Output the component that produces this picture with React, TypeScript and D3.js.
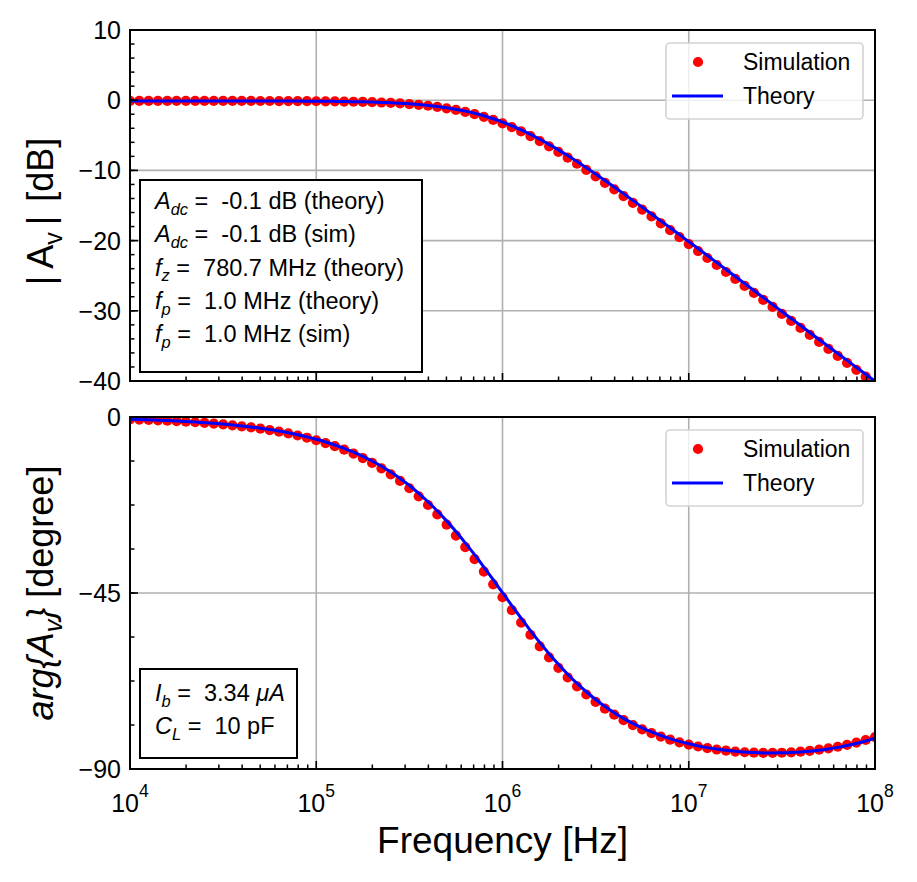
import { useEffect, useRef } from 'react';
import * as d3 from 'd3';

// log10 of frequency [Hz], 20 points per decade
const logFreq = [
  4.00, 4.05, 4.10, 4.15, 4.20, 4.25, 4.30, 4.35, 4.40, 4.45,
  4.50, 4.55, 4.60, 4.65, 4.70, 4.75, 4.80, 4.85, 4.90, 4.95,
  5.00, 5.05, 5.10, 5.15, 5.20, 5.25, 5.30, 5.35, 5.40, 5.45,
  5.50, 5.55, 5.60, 5.65, 5.70, 5.75, 5.80, 5.85, 5.90, 5.95,
  6.00, 6.05, 6.10, 6.15, 6.20, 6.25, 6.30, 6.35, 6.40, 6.45,
  6.50, 6.55, 6.60, 6.65, 6.70, 6.75, 6.80, 6.85, 6.90, 6.95,
  7.00, 7.05, 7.10, 7.15, 7.20, 7.25, 7.30, 7.35, 7.40, 7.45,
  7.50, 7.55, 7.60, 7.65, 7.70, 7.75, 7.80, 7.85, 7.90, 7.95,
  8.00,
];

const theoryMagDb = [
  -0.100, -0.101, -0.101, -0.101, -0.101, -0.101, -0.102, -0.102, -0.103, -0.103,
  -0.104, -0.105, -0.107, -0.109, -0.111, -0.114, -0.117, -0.122, -0.127, -0.134,
  -0.143, -0.154, -0.168, -0.186, -0.208, -0.235, -0.270, -0.312, -0.366, -0.432,
  -0.514, -0.615, -0.739, -0.890, -1.073, -1.293, -1.555, -1.864, -2.224, -2.639,
  -3.110, -3.639, -4.224, -4.864, -5.555, -6.293, -7.073, -7.890, -8.739, -9.615,
  -10.514, -11.432, -12.366, -13.312, -14.270, -15.235, -16.208, -17.186, -18.168, -19.154,
  -20.142, -21.133, -22.126, -23.121, -24.117, -25.113, -26.110, -27.106, -28.103, -29.099,
  -30.097, -31.094, -32.092, -33.088, -34.084, -35.079, -36.073, -37.066, -38.056, -39.045,
  -40.029,
];

const simMagDb = [
  -0.100, -0.101, -0.101, -0.101, -0.101, -0.102, -0.102, -0.102, -0.103, -0.104,
  -0.105, -0.106, -0.108, -0.110, -0.112, -0.115, -0.119, -0.124, -0.129, -0.137,
  -0.147, -0.159, -0.174, -0.194, -0.218, -0.247, -0.285, -0.331, -0.389, -0.461,
  -0.550, -0.659, -0.793, -0.955, -1.151, -1.386, -1.665, -1.992, -2.371, -2.806,
  -3.298, -3.847, -4.451, -5.109, -5.817, -6.570, -7.363, -8.191, -9.050, -9.934,
  -10.840, -11.764, -12.702, -13.652, -14.613, -15.580, -16.555, -17.535, -18.518, -19.505,
  -20.494, -21.485, -22.479, -23.474, -24.471, -25.466, -26.462, -27.458, -28.456, -29.452,
  -30.450, -31.447, -32.443, -33.439, -34.433, -35.427, -36.421, -37.412, -38.402, -39.389,
  -40.373,
];

const theoryPhaseDeg = [
  -0.57, -0.64, -0.72, -0.81, -0.91, -1.02, -1.14, -1.28, -1.44, -1.61,
  -1.81, -2.03, -2.28, -2.55, -2.86, -3.21, -3.60, -4.04, -4.53, -5.08,
  -5.70, -6.39, -7.16, -8.02, -8.98, -10.06, -11.26, -12.59, -14.07, -15.71,
  -17.52, -19.50, -21.67, -24.02, -26.56, -29.28, -32.17, -35.21, -38.36, -41.60,
  -44.93, -48.21, -51.45, -54.60, -57.63, -60.52, -63.23, -65.77, -68.11, -70.25,
  -72.22, -74.00, -75.61, -77.05, -78.35, -79.51, -80.53, -81.44, -82.24, -82.95,
  -83.56, -84.09, -84.54, -84.91, -85.23, -85.48, -85.67, -85.80, -85.88, -85.90,
  -85.87, -85.79, -85.64, -85.45, -85.19, -84.86, -84.47, -84.01, -83.47, -82.85,
  -82.13,
];

const simPhaseDeg = [
  -0.60, -0.67, -0.75, -0.85, -0.95, -1.06, -1.19, -1.34, -1.50, -1.68,
  -1.89, -2.12, -2.38, -2.66, -2.98, -3.35, -3.76, -4.21, -4.73, -5.30,
  -5.94, -6.66, -7.47, -8.36, -9.36, -10.49, -11.73, -13.12, -14.65, -16.35,
  -18.22, -20.27, -22.50, -24.92, -27.53, -30.31, -33.25, -36.33, -39.51, -42.78,
  -46.09, -49.36, -52.57, -55.68, -58.66, -61.48, -64.13, -66.60, -68.87, -70.95,
  -72.85, -74.57, -76.12, -77.51, -78.76, -79.87, -80.85, -81.72, -82.49, -83.17,
  -83.75, -84.25, -84.67, -85.02, -85.32, -85.55, -85.72, -85.83, -85.89, -85.89,
  -85.84, -85.74, -85.57, -85.36, -85.07, -84.72, -84.31, -83.82, -83.25, -82.59,
  -81.85,
];

const decadeExps = [4, 5, 6, 7, 8];
const magTicks = [10, 0, -10, -20, -30, -40];
const phaseTicks = [0, -45, -90];

const magNotes = [
  [{ t: 'A', it: true }, { t: 'dc', it: true, sub: true }, { t: ' =  -0.1 dB (theory)' }],
  [{ t: 'A', it: true }, { t: 'dc', it: true, sub: true }, { t: ' =  -0.1 dB (sim)' }],
  [{ t: 'f', it: true }, { t: 'z', it: true, sub: true }, { t: ' =  780.7 MHz (theory)' }],
  [{ t: 'f', it: true }, { t: 'p', it: true, sub: true }, { t: ' =  1.0 MHz (theory)' }],
  [{ t: 'f', it: true }, { t: 'p', it: true, sub: true }, { t: ' =  1.0 MHz (sim)' }],
];
const phaseNotes = [
  [{ t: 'I', it: true }, { t: 'b', it: true, sub: true }, { t: ' =  3.34 ' }, { t: 'μA', it: true }],
  [{ t: 'C', it: true }, { t: 'L', it: true, sub: true }, { t: ' =  10 pF' }],
];

type Part = { t: string; it?: boolean; sub?: boolean; sup?: boolean; dx?: number };

const FONT = "'Liberation Sans', Arial, Helvetica, sans-serif";

function richText(parent: any, x: number, y: number, parts: Part[], size: number, anchor = 'start') {
  const text = parent.append('text')
    .attr('x', x).attr('y', y)
    .attr('font-size', size)
    .attr('text-anchor', anchor)
    .attr('fill', '#000')
    .style('white-space', 'pre');
  let shift = 0;
  parts.forEach((p) => {
    const target = p.sub ? size * 0.25 : p.sup ? -size * 0.62 : 0;
    const ts = text.append('tspan').attr('dy', target - shift).text(p.t);
    shift = target;
    if (p.dx) ts.attr('dx', p.dx);
    if (p.it) ts.attr('font-style', 'italic');
    if (p.sub || p.sup) ts.attr('font-size', size * 0.7);
  });
  return text;
}

export default function App() {
  const svgRef = useRef<SVGSVGElement>(null);

  useEffect(() => {
    if (!svgRef.current) return;
    const svg = d3.select(svgRef.current);
    svg.selectAll('*').remove();
    svg.attr('font-family', FONT);

    const left = 130;
    const right = 875;
    const x = d3.scaleLog().domain([1e4, 1e8]).range([left, right]);
    const freqs = logFreq.map((l) => Math.pow(10, l));

    const minorX: number[] = [];
    decadeExps.slice(0, -1).forEach((e) => {
      for (let k = 2; k <= 9; k++) minorX.push(k * Math.pow(10, e));
    });

    const panels = [
      {
        id: 'mag', top: 30, bottom: 381, domain: [-40, 10], ticks: magTicks, minorStep: 2,
        sim: simMagDb, theory: theoryMagDb,
        label: [{ t: '|' }, { t: 'A', dx: 7 }, { t: 'v', sub: true }, { t: '|', dx: 7 }, { t: ' [dB]', dx: 4 }] as Part[],
        labelShift: 6,
        notes: magNotes as Part[][], box: { x: 140, y: 180, w: 282, h: 192 }, noteY0: 209,
      },
      {
        id: 'phase', top: 417, bottom: 769, domain: [-90, 0], ticks: phaseTicks, minorStep: 11.25,
        sim: simPhaseDeg, theory: theoryPhaseDeg,
        label: [{ t: 'arg{', it: true }, { t: 'A', it: true }, { t: 'v', it: true, sub: true }, { t: '}', it: true }, { t: ' [degree]' }] as Part[],
        labelShift: 0,
        notes: phaseNotes as Part[][], box: { x: 140, y: 669, w: 157, h: 89 }, noteY0: 701,
      },
    ];

    panels.forEach((pn, pi) => {
      const y = d3.scaleLinear().domain(pn.domain).range([pn.bottom, pn.top]);
      const g = svg.append('g');

      const clipId = 'clip-' + pn.id;
      svg.append('clipPath').attr('id', clipId).append('rect')
        .attr('x', left).attr('y', pn.top).attr('width', right - left).attr('height', pn.bottom - pn.top);

      // grid
      decadeExps.forEach((e) => {
        g.append('line').attr('x1', x(Math.pow(10, e))).attr('x2', x(Math.pow(10, e)))
          .attr('y1', pn.top).attr('y2', pn.bottom).attr('stroke', '#b0b0b0').attr('stroke-width', 1.6);
      });
      pn.ticks.forEach((t) => {
        g.append('line').attr('x1', left).attr('x2', right).attr('y1', y(t)).attr('y2', y(t))
          .attr('stroke', '#b0b0b0').attr('stroke-width', 1.6);
      });

      // data
      const data = g.append('g').attr('clip-path', 'url(#' + clipId + ')');
      data.selectAll('circle').data(freqs).enter().append('circle')
        .attr('cx', (f) => x(f)).attr('cy', (_f, i) => y(pn.sim[i])).attr('r', 5.1).attr('fill', '#ff0000');
      const line = d3.line<number>().x((f) => x(f)).y((_f, i) => y(pn.theory[i])).curve(d3.curveMonotoneX);
      data.append('path').datum(freqs).attr('d', line).attr('fill', 'none')
        .attr('stroke', '#0000ff').attr('stroke-width', 3);

      // ticks (inward, left and bottom)
      const minorY = d3.range(pn.domain[0], pn.domain[1] + 0.001, pn.minorStep);
      minorY.forEach((v) => {
        g.append('line').attr('x1', left).attr('x2', left + 4.5).attr('y1', y(v)).attr('y2', y(v))
          .attr('stroke', '#000').attr('stroke-width', 1.5);
      });
      pn.ticks.forEach((v) => {
        g.append('line').attr('x1', left).attr('x2', left + 8).attr('y1', y(v)).attr('y2', y(v))
          .attr('stroke', '#000').attr('stroke-width', 1.6);
        g.append('text').attr('x', 121).attr('y', y(v) + 9).attr('text-anchor', 'end')
          .attr('font-size', 25).text(d3.format('')(v).replace('-', '\u2212'));
      });
      minorX.forEach((f) => {
        g.append('line').attr('x1', x(f)).attr('x2', x(f)).attr('y1', pn.bottom).attr('y2', pn.bottom - 4.5)
          .attr('stroke', '#000').attr('stroke-width', 1.5);
      });
      decadeExps.forEach((e) => {
        g.append('line').attr('x1', x(Math.pow(10, e))).attr('x2', x(Math.pow(10, e)))
          .attr('y1', pn.bottom).attr('y2', pn.bottom - 8).attr('stroke', '#000').attr('stroke-width', 1.6);
      });

      // frame
      g.append('rect').attr('x', left).attr('y', pn.top).attr('width', right - left).attr('height', pn.bottom - pn.top)
        .attr('fill', 'none').attr('stroke', '#000').attr('stroke-width', 2);

      // y label
      const cy = (pn.top + pn.bottom) / 2 + pn.labelShift;
      const yl = g.append('g').attr('transform', 'translate(53,' + cy + ') rotate(-90)');
      richText(yl, 0, 0, pn.label, 36, 'middle');

      // legend
      const lg = g.append('g').attr('transform', 'translate(0,' + (pn.top - 30) + ')');
      lg.append('rect').attr('x', 666).attr('y', 43).attr('width', 197).attr('height', 76).attr('rx', 4)
        .attr('fill', '#fff').attr('fill-opacity', 0.8).attr('stroke', '#d3d3d3').attr('stroke-width', 1.6);
      lg.append('circle').attr('cx', 698).attr('cy', 62).attr('r', 5.1).attr('fill', '#ff0000');
      lg.append('text').attr('x', 743).attr('y', 70).attr('font-size', 23).text('Simulation');
      lg.append('line').attr('x1', 672).attr('x2', 723).attr('y1', 96).attr('y2', 96)
        .attr('stroke', '#0000ff').attr('stroke-width', 3);
      lg.append('text').attr('x', 743).attr('y', 104).attr('font-size', 23).text('Theory');

      // note box
      g.append('rect').attr('x', pn.box.x).attr('y', pn.box.y).attr('width', pn.box.w).attr('height', pn.box.h)
        .attr('fill', '#fff').attr('stroke', '#000').attr('stroke-width', 2);
      pn.notes.forEach((parts, i) => {
        richText(g, 155, pn.noteY0 + i * 33.3, parts, 23.5);
      });

      // x tick labels on bottom panel only
      if (pi === 1) {
        decadeExps.forEach((e) => {
          richText(g, x(Math.pow(10, e)), 812, [{ t: '10' }, { t: String(e), sup: true }], 25, 'middle');
        });
        g.append('text').attr('x', (left + right) / 2).attr('y', 853).attr('text-anchor', 'middle')
          .attr('font-size', 37).text('Frequency [Hz]');
      }
    });
  }, []);

  return (
    <svg
      ref={svgRef}
      width={917}
      height={882}
      style={{ position: 'absolute', left: 0, top: 0, background: '#fff' }}
    />
  );
}
